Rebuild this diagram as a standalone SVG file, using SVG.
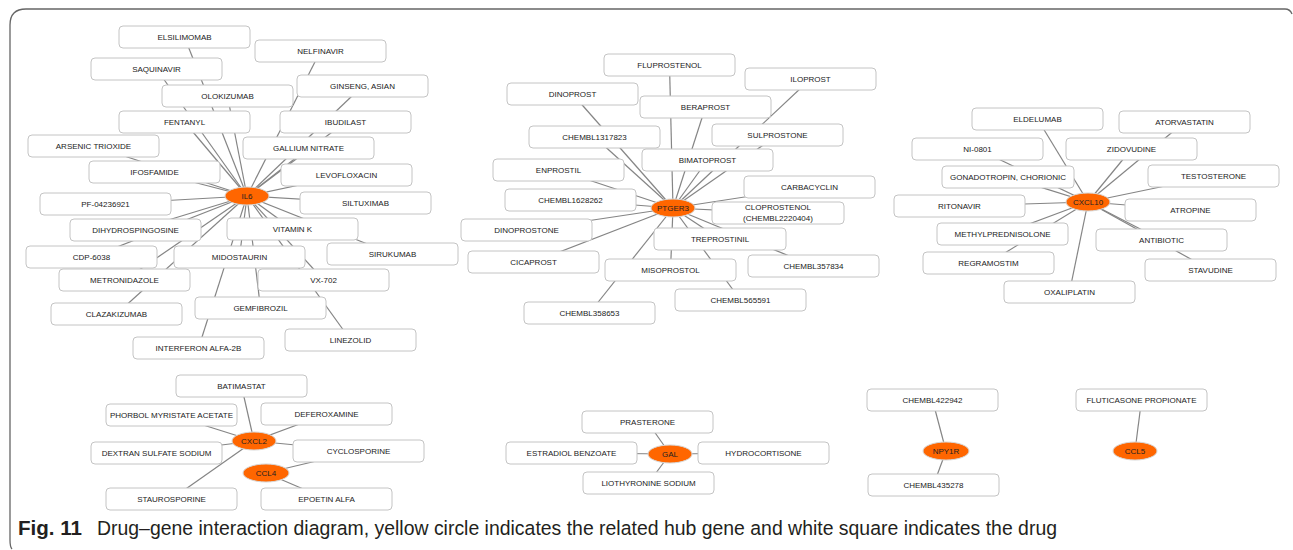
<svg xmlns="http://www.w3.org/2000/svg" width="1293" height="550" viewBox="0 0 1293 550">
<style>
.e{stroke:#858585;stroke-width:1.2;fill:none}
.b rect{fill:#fff;stroke:#c4c4c4;stroke-width:1}
.b text,.h text{font-family:"Liberation Sans",Arial,sans-serif;font-size:8px;fill:#222;text-anchor:middle}
.h ellipse{fill:#ff6600;stroke:#d6d6d6;stroke-width:1}
.cap{font-family:"Liberation Sans",Arial,sans-serif;fill:#231f20}
</style>
<rect width="1293" height="550" fill="#fff"/>
<path d="M12 549 Q10 547 10 540 L10 25 Q10 9 26 9 L1285 9 Q1290 9 1292 14" fill="none" stroke="#666" stroke-width="1.3"/>
<g id="connectors">
<!-- IL6 -->
<line class="e" x1="247" y1="196" x2="184.5" y2="37"/>
<line class="e" x1="247" y1="196" x2="320.5" y2="51"/>
<line class="e" x1="247" y1="196" x2="156.5" y2="69"/>
<line class="e" x1="247" y1="196" x2="362.5" y2="86"/>
<line class="e" x1="247" y1="196" x2="227.5" y2="96"/>
<line class="e" x1="247" y1="196" x2="184.5" y2="122"/>
<line class="e" x1="247" y1="196" x2="345.5" y2="122"/>
<line class="e" x1="247" y1="196" x2="93.5" y2="146"/>
<line class="e" x1="247" y1="196" x2="308.5" y2="148"/>
<line class="e" x1="247" y1="196" x2="154.5" y2="172"/>
<line class="e" x1="247" y1="196" x2="346.5" y2="175"/>
<line class="e" x1="247" y1="196" x2="105.5" y2="204"/>
<line class="e" x1="247" y1="196" x2="365.5" y2="203"/>
<line class="e" x1="247" y1="196" x2="135.5" y2="230"/>
<line class="e" x1="247" y1="196" x2="292.5" y2="229"/>
<line class="e" x1="247" y1="196" x2="91.5" y2="257"/>
<line class="e" x1="247" y1="196" x2="239.5" y2="257"/>
<line class="e" x1="247" y1="196" x2="392.5" y2="254"/>
<line class="e" x1="247" y1="196" x2="124.5" y2="280"/>
<line class="e" x1="247" y1="196" x2="323.5" y2="280"/>
<line class="e" x1="247" y1="196" x2="116.5" y2="314"/>
<line class="e" x1="247" y1="196" x2="260.5" y2="308"/>
<line class="e" x1="247" y1="196" x2="350.5" y2="340"/>
<line class="e" x1="247" y1="196" x2="198.5" y2="348"/>
<!-- PTGER3 -->
<line class="e" x1="673" y1="208" x2="669.5" y2="65"/>
<line class="e" x1="673" y1="208" x2="810.5" y2="79"/>
<line class="e" x1="673" y1="208" x2="572.5" y2="94"/>
<line class="e" x1="673" y1="208" x2="705.5" y2="107"/>
<line class="e" x1="673" y1="208" x2="594.5" y2="137"/>
<line class="e" x1="673" y1="208" x2="777.5" y2="135"/>
<line class="e" x1="673" y1="208" x2="707.5" y2="160"/>
<line class="e" x1="673" y1="208" x2="558.5" y2="170"/>
<line class="e" x1="673" y1="208" x2="809.5" y2="187"/>
<line class="e" x1="673" y1="208" x2="570.5" y2="200"/>
<line class="e" x1="673" y1="208" x2="778" y2="213"/>
<line class="e" x1="673" y1="208" x2="526.5" y2="230"/>
<line class="e" x1="673" y1="208" x2="720" y2="239"/>
<line class="e" x1="673" y1="208" x2="533.5" y2="262"/>
<line class="e" x1="673" y1="208" x2="813.5" y2="266"/>
<line class="e" x1="673" y1="208" x2="670.5" y2="270"/>
<line class="e" x1="673" y1="208" x2="740.5" y2="300"/>
<line class="e" x1="673" y1="208" x2="589.5" y2="313"/>
<!-- CXCL10 -->
<line class="e" x1="1088" y1="202" x2="1037.5" y2="119"/>
<line class="e" x1="1088" y1="202" x2="1184.5" y2="122"/>
<line class="e" x1="1088" y1="202" x2="977.5" y2="149"/>
<line class="e" x1="1088" y1="202" x2="1131.5" y2="149"/>
<line class="e" x1="1088" y1="202" x2="1008" y2="177"/>
<line class="e" x1="1088" y1="202" x2="1213.5" y2="176"/>
<line class="e" x1="1088" y1="202" x2="959.5" y2="206"/>
<line class="e" x1="1088" y1="202" x2="1190.5" y2="210"/>
<line class="e" x1="1088" y1="202" x2="1002.5" y2="234"/>
<line class="e" x1="1088" y1="202" x2="1161.5" y2="240" stroke-width="2.4"/>
<line class="e" x1="1088" y1="202" x2="988.5" y2="263"/>
<line class="e" x1="1088" y1="202" x2="1210.5" y2="270"/>
<line class="e" x1="1088" y1="202" x2="1069.5" y2="292"/>
<!-- CXCL2 / CCL4 -->
<line class="e" x1="254" y1="441" x2="241.5" y2="386"/>
<line class="e" x1="254" y1="441" x2="171.5" y2="415"/>
<line class="e" x1="254" y1="441" x2="326.5" y2="414"/>
<line class="e" x1="254" y1="441" x2="156.5" y2="453"/>
<line class="e" x1="254" y1="441" x2="358.5" y2="451"/>
<line class="e" x1="254" y1="441" x2="171.5" y2="499"/>
<line class="e" x1="266" y1="473" x2="358.5" y2="451"/>
<line class="e" x1="266" y1="473" x2="326.5" y2="499"/>
<!-- GAL -->
<line class="e" x1="670" y1="454" x2="647.5" y2="422"/>
<line class="e" x1="670" y1="454" x2="571.5" y2="453"/>
<line class="e" x1="670" y1="454" x2="763.5" y2="453"/>
<line class="e" x1="670" y1="454" x2="648.5" y2="483"/>
<!-- NPY1R / CCL5 -->
<line class="e" x1="946" y1="451" x2="932.5" y2="400"/>
<line class="e" x1="946" y1="451" x2="933.5" y2="485"/>
<line class="e" x1="1135" y1="451" x2="1141.5" y2="400"/>
</g>
<!-- IL6 drugs -->
<g id="n-elsilimomab" class="b"><rect x="119" y="26" width="131" height="22" rx="4"/><text x="184.5" y="40">ELSILIMOMAB</text></g>
<g id="n-nelfinavir" class="b"><rect x="255" y="40" width="131" height="22" rx="4"/><text x="320.5" y="54">NELFINAVIR</text></g>
<g id="n-saquinavir" class="b"><rect x="91" y="58" width="131" height="22" rx="4"/><text x="156.5" y="72">SAQUINAVIR</text></g>
<g id="n-ginseng" class="b"><rect x="297" y="75" width="131" height="22" rx="4"/><text x="362.5" y="89">GINSENG, ASIAN</text></g>
<g id="n-olokizumab" class="b"><rect x="162" y="85" width="131" height="22" rx="4"/><text x="227.5" y="99">OLOKIZUMAB</text></g>
<g id="n-fentanyl" class="b"><rect x="119" y="111" width="131" height="22" rx="4"/><text x="184.5" y="125">FENTANYL</text></g>
<g id="n-ibudilast" class="b"><rect x="280" y="111" width="131" height="22" rx="4"/><text x="345.5" y="125">IBUDILAST</text></g>
<g id="n-arsenic" class="b"><rect x="28" y="135" width="131" height="22" rx="4"/><text x="93.5" y="149">ARSENIC TRIOXIDE</text></g>
<g id="n-gallium" class="b"><rect x="243" y="137" width="131" height="22" rx="4"/><text x="308.5" y="151">GALLIUM NITRATE</text></g>
<g id="n-ifosfamide" class="b"><rect x="89" y="161" width="131" height="22" rx="4"/><text x="154.5" y="175">IFOSFAMIDE</text></g>
<g id="n-levofloxacin" class="b"><rect x="281" y="164" width="131" height="22" rx="4"/><text x="346.5" y="178">LEVOFLOXACIN</text></g>
<g id="n-pf04236921" class="b"><rect x="40" y="193" width="131" height="22" rx="4"/><text x="105.5" y="207">PF-04236921</text></g>
<g id="n-siltuximab" class="b"><rect x="300" y="192" width="131" height="22" rx="4"/><text x="365.5" y="206">SILTUXIMAB</text></g>
<g id="n-dihydrospingosine" class="b"><rect x="70" y="219" width="131" height="22" rx="4"/><text x="135.5" y="233">DIHYDROSPINGOSINE</text></g>
<g id="n-vitamink" class="b"><rect x="227" y="218" width="131" height="22" rx="4"/><text x="292.5" y="232">VITAMIN K</text></g>
<g id="n-cdp6038" class="b"><rect x="26" y="246" width="131" height="22" rx="4"/><text x="91.5" y="260">CDP-6038</text></g>
<g id="n-midostaurin" class="b"><rect x="174" y="246" width="131" height="22" rx="4"/><text x="239.5" y="260">MIDOSTAURIN</text></g>
<g id="n-sirukumab" class="b"><rect x="327" y="243" width="131" height="22" rx="4"/><text x="392.5" y="257">SIRUKUMAB</text></g>
<g id="n-metronidazole" class="b"><rect x="59" y="269" width="131" height="22" rx="4"/><text x="124.5" y="283">METRONIDAZOLE</text></g>
<g id="n-vx702" class="b"><rect x="258" y="269" width="131" height="22" rx="4"/><text x="323.5" y="283">VX-702</text></g>
<g id="n-clazakizumab" class="b"><rect x="51" y="303" width="131" height="22" rx="4"/><text x="116.5" y="317">CLAZAKIZUMAB</text></g>
<g id="n-gemfibrozil" class="b"><rect x="195" y="297" width="131" height="22" rx="4"/><text x="260.5" y="311">GEMFIBROZIL</text></g>
<g id="n-linezolid" class="b"><rect x="285" y="329" width="131" height="22" rx="4"/><text x="350.5" y="343">LINEZOLID</text></g>
<g id="n-interferon" class="b"><rect x="133" y="337" width="131" height="22" rx="4"/><text x="198.5" y="351">INTERFERON ALFA-2B</text></g>
<g id="hub-il6" class="h"><ellipse cx="247" cy="196" rx="22" ry="9"/><text x="247" y="199">IL6</text></g>
<!-- PTGER3 drugs -->
<g id="n-fluprostenol" class="b"><rect x="604" y="54" width="131" height="22" rx="4"/><text x="669.5" y="68">FLUPROSTENOL</text></g>
<g id="n-iloprost" class="b"><rect x="745" y="68" width="131" height="22" rx="4"/><text x="810.5" y="82">ILOPROST</text></g>
<g id="n-dinoprost" class="b"><rect x="507" y="83" width="131" height="22" rx="4"/><text x="572.5" y="97">DINOPROST</text></g>
<g id="n-beraprost" class="b"><rect x="640" y="96" width="131" height="22" rx="4"/><text x="705.5" y="110">BERAPROST</text></g>
<g id="n-chembl1317823" class="b"><rect x="529" y="126" width="131" height="22" rx="4"/><text x="594.5" y="140">CHEMBL1317823</text></g>
<g id="n-sulprostone" class="b"><rect x="712" y="124" width="131" height="22" rx="4"/><text x="777.5" y="138">SULPROSTONE</text></g>
<g id="n-bimatoprost" class="b"><rect x="642" y="149" width="131" height="22" rx="4"/><text x="707.5" y="163">BIMATOPROST</text></g>
<g id="n-enprostil" class="b"><rect x="493" y="159" width="131" height="22" rx="4"/><text x="558.5" y="173">ENPROSTIL</text></g>
<g id="n-carbacyclin" class="b"><rect x="744" y="176" width="131" height="22" rx="4"/><text x="809.5" y="190">CARBACYCLIN</text></g>
<g id="n-chembl1628262" class="b"><rect x="505" y="189" width="131" height="22" rx="4"/><text x="570.5" y="203">CHEMBL1628262</text></g>
<g id="n-cloprostenol" class="b"><rect x="712" y="202" width="132" height="22" rx="4"/><text x="778" y="210">CLOPROSTENOL</text><text x="778" y="221">(CHEMBL2220404)</text></g>
<g id="n-dinoprostone" class="b"><rect x="461" y="219" width="131" height="22" rx="4"/><text x="526.5" y="233">DINOPROSTONE</text></g>
<g id="n-treprostinil" class="b"><rect x="654" y="228" width="132" height="22" rx="4"/><text x="720" y="242">TREPROSTINIL</text></g>
<g id="n-cicaprost" class="b"><rect x="468" y="251" width="131" height="22" rx="4"/><text x="533.5" y="265">CICAPROST</text></g>
<g id="n-chembl357834" class="b"><rect x="748" y="255" width="131" height="22" rx="4"/><text x="813.5" y="269">CHEMBL357834</text></g>
<g id="n-misoprostol" class="b"><rect x="605" y="259" width="131" height="22" rx="4"/><text x="670.5" y="273">MISOPROSTOL</text></g>
<g id="n-chembl565591" class="b"><rect x="675" y="289" width="131" height="22" rx="4"/><text x="740.5" y="303">CHEMBL565591</text></g>
<g id="n-chembl358653" class="b"><rect x="524" y="302" width="131" height="22" rx="4"/><text x="589.5" y="316">CHEMBL358653</text></g>
<g id="hub-ptger3" class="h"><ellipse cx="673" cy="208" rx="22" ry="9"/><text x="673" y="211">PTGER3</text></g>
<!-- CXCL10 drugs -->
<g id="n-eldelumab" class="b"><rect x="972" y="108" width="131" height="22" rx="4"/><text x="1037.5" y="122">ELDELUMAB</text></g>
<g id="n-atorvastatin" class="b"><rect x="1119" y="111" width="131" height="22" rx="4"/><text x="1184.5" y="125">ATORVASTATIN</text></g>
<g id="n-ni0801" class="b"><rect x="912" y="138" width="131" height="22" rx="4"/><text x="977.5" y="152">NI-0801</text></g>
<g id="n-zidovudine" class="b"><rect x="1066" y="138" width="131" height="22" rx="4"/><text x="1131.5" y="152">ZIDOVUDINE</text></g>
<g id="n-gonadotropin" class="b"><rect x="942" y="166" width="132" height="22" rx="4"/><text x="1008" y="180">GONADOTROPIN, CHORIONIC</text></g>
<g id="n-testosterone" class="b"><rect x="1148" y="165" width="131" height="22" rx="4"/><text x="1213.5" y="179">TESTOSTERONE</text></g>
<g id="n-ritonavir" class="b"><rect x="894" y="195" width="131" height="22" rx="4"/><text x="959.5" y="209">RITONAVIR</text></g>
<g id="n-atropine" class="b"><rect x="1125" y="199" width="131" height="22" rx="4"/><text x="1190.5" y="213">ATROPINE</text></g>
<g id="n-methylprednisolone" class="b"><rect x="937" y="223" width="131" height="22" rx="4"/><text x="1002.5" y="237">METHYLPREDNISOLONE</text></g>
<g id="n-antibiotic" class="b"><rect x="1096" y="229" width="131" height="22" rx="4"/><text x="1161.5" y="243">ANTIBIOTIC</text></g>
<g id="n-regramostim" class="b"><rect x="923" y="252" width="131" height="22" rx="4"/><text x="988.5" y="266">REGRAMOSTIM</text></g>
<g id="n-stavudine" class="b"><rect x="1145" y="259" width="131" height="22" rx="4"/><text x="1210.5" y="273">STAVUDINE</text></g>
<g id="n-oxaliplatin" class="b"><rect x="1004" y="281" width="131" height="22" rx="4"/><text x="1069.5" y="295">OXALIPLATIN</text></g>
<g id="hub-cxcl10" class="h"><ellipse cx="1088" cy="202" rx="22" ry="9"/><text x="1088" y="205">CXCL10</text></g>
<!-- CXCL2 / CCL4 -->
<g id="n-batimastat" class="b"><rect x="176" y="375" width="131" height="22" rx="4"/><text x="241.5" y="389">BATIMASTAT</text></g>
<g id="n-phorbol" class="b"><rect x="106" y="404" width="131" height="22" rx="4"/><text x="171.5" y="418">PHORBOL MYRISTATE ACETATE</text></g>
<g id="n-deferoxamine" class="b"><rect x="261" y="403" width="131" height="22" rx="4"/><text x="326.5" y="417">DEFEROXAMINE</text></g>
<g id="n-dextran" class="b"><rect x="91" y="442" width="131" height="22" rx="4"/><text x="156.5" y="456">DEXTRAN SULFATE SODIUM</text></g>
<g id="n-cyclosporine" class="b"><rect x="293" y="440" width="131" height="22" rx="4"/><text x="358.5" y="454">CYCLOSPORINE</text></g>
<g id="n-staurosporine" class="b"><rect x="106" y="488" width="131" height="22" rx="4"/><text x="171.5" y="502">STAUROSPORINE</text></g>
<g id="n-epoetin" class="b"><rect x="261" y="488" width="131" height="22" rx="4"/><text x="326.5" y="502">EPOETIN ALFA</text></g>
<g id="hub-cxcl2" class="h"><ellipse cx="254" cy="441" rx="22" ry="9"/><text x="254" y="444">CXCL2</text></g>
<g id="hub-ccl4" class="h"><ellipse cx="266" cy="473" rx="23" ry="9"/><text x="266" y="476">CCL4</text></g>
<!-- GAL -->
<g id="n-prasterone" class="b"><rect x="582" y="411" width="131" height="22" rx="4"/><text x="647.5" y="425">PRASTERONE</text></g>
<g id="n-estradiol" class="b"><rect x="506" y="442" width="131" height="22" rx="4"/><text x="571.5" y="456">ESTRADIOL BENZOATE</text></g>
<g id="n-hydrocortisone" class="b"><rect x="698" y="442" width="131" height="22" rx="4"/><text x="763.5" y="456">HYDROCORTISONE</text></g>
<g id="n-liothyronine" class="b"><rect x="583" y="472" width="131" height="22" rx="4"/><text x="648.5" y="486">LIOTHYRONINE SODIUM</text></g>
<g id="hub-gal" class="h"><ellipse cx="670" cy="454" rx="22" ry="9"/><text x="670" y="457">GAL</text></g>
<!-- NPY1R / CCL5 -->
<g id="n-chembl422942" class="b"><rect x="867" y="389" width="131" height="22" rx="4"/><text x="932.5" y="403">CHEMBL422942</text></g>
<g id="n-chembl435278" class="b"><rect x="868" y="474" width="131" height="22" rx="4"/><text x="933.5" y="488">CHEMBL435278</text></g>
<g id="hub-npy1r" class="h"><ellipse cx="946" cy="451" rx="23" ry="9"/><text x="946" y="454">NPY1R</text></g>
<g id="n-fluticasone" class="b"><rect x="1076" y="389" width="131" height="22" rx="4"/><text x="1141.5" y="403">FLUTICASONE PROPIONATE</text></g>
<g id="hub-ccl5" class="h"><ellipse cx="1135" cy="451" rx="22" ry="9"/><text x="1135" y="454">CCL5</text></g>
<!-- caption -->
<g id="caption">
<text class="cap" x="18" y="535" font-size="20.5" font-weight="bold" textLength="64" lengthAdjust="spacingAndGlyphs">Fig. 11</text>
<text class="cap" x="97" y="535" font-size="20.5" textLength="960" lengthAdjust="spacingAndGlyphs">Drug–gene interaction diagram, yellow circle indicates the related hub gene and white square indicates the drug</text>
</g>
</svg>
